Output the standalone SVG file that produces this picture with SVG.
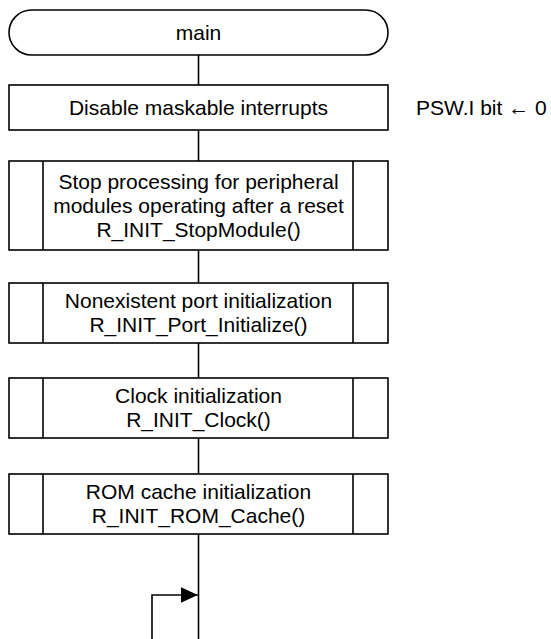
<svg xmlns="http://www.w3.org/2000/svg" width="551" height="639" viewBox="0 0 551 639">
<defs>
<style>
.box{fill:#fff;stroke:#000;stroke-width:1.6}
.ln{fill:none;stroke:#000;stroke-width:1.6}
.t{font-family:"Liberation Sans",Arial,sans-serif;font-size:21px;fill:#000;text-anchor:middle}
.n{font-family:"Liberation Sans",Arial,sans-serif;font-size:21px;fill:#000}
</style>
<marker id="ah" markerWidth="17" markerHeight="16" refX="17" refY="8" orient="auto" markerUnits="userSpaceOnUse">
<path d="M0,0 L17,8 L0,16 Z" fill="#000"/>
</marker>
</defs>
<rect width="551" height="639" fill="#fff"/>
<g id="connectors">
<line class="ln" x1="198.5" y1="55" x2="198.5" y2="85"/>
<line class="ln" x1="198.5" y1="130" x2="198.5" y2="161"/>
<line class="ln" x1="198.5" y1="250" x2="198.5" y2="283"/>
<line class="ln" x1="198.5" y1="343" x2="198.5" y2="378"/>
<line class="ln" x1="198.5" y1="438" x2="198.5" y2="474"/>
<line class="ln" x1="198.5" y1="534" x2="198.5" y2="639"/>
<polyline class="ln" points="152,639 152,595 197.7,595" marker-end="url(#ah)"/>
</g>
<g id="main">
<rect class="box" x="9" y="10" width="379" height="45" rx="22.5" ry="22.5"/>
<text class="t" x="198.5" y="40">main</text>
</g>
<g id="disable">
<rect class="box" x="9" y="85" width="379" height="45"/>
<text class="t" x="198.5" y="115">Disable maskable interrupts</text>
</g>
<g id="psw">
<text class="n" x="416" y="115">PSW.I bit ← 0</text>
</g>
<g id="stop">
<rect class="box" x="9" y="161" width="379" height="89"/>
<line class="ln" x1="43" y1="161" x2="43" y2="250"/>
<line class="ln" x1="353" y1="161" x2="353" y2="250"/>
<text class="t" x="198.5" y="188.5">Stop processing for peripheral</text>
<text class="t" x="198.5" y="212.5">modules operating after a reset</text>
<text class="t" x="198.5" y="236.5">R_INIT_StopModule()</text>
</g>
<g id="port">
<rect class="box" x="9" y="283" width="379" height="60"/>
<line class="ln" x1="43" y1="283" x2="43" y2="343"/>
<line class="ln" x1="353" y1="283" x2="353" y2="343"/>
<text class="t" x="198.5" y="308">Nonexistent port initialization</text>
<text class="t" x="198.5" y="332">R_INIT_Port_Initialize()</text>
</g>
<g id="clock">
<rect class="box" x="9" y="378" width="379" height="60"/>
<line class="ln" x1="43" y1="378" x2="43" y2="438"/>
<line class="ln" x1="353" y1="378" x2="353" y2="438"/>
<text class="t" x="198.5" y="403">Clock initialization</text>
<text class="t" x="198.5" y="427">R_INIT_Clock()</text>
</g>
<g id="rom">
<rect class="box" x="9" y="474" width="379" height="60"/>
<line class="ln" x1="43" y1="474" x2="43" y2="534"/>
<line class="ln" x1="353" y1="474" x2="353" y2="534"/>
<text class="t" x="198.5" y="499">ROM cache initialization</text>
<text class="t" x="198.5" y="523">R_INIT_ROM_Cache()</text>
</g>
</svg>
